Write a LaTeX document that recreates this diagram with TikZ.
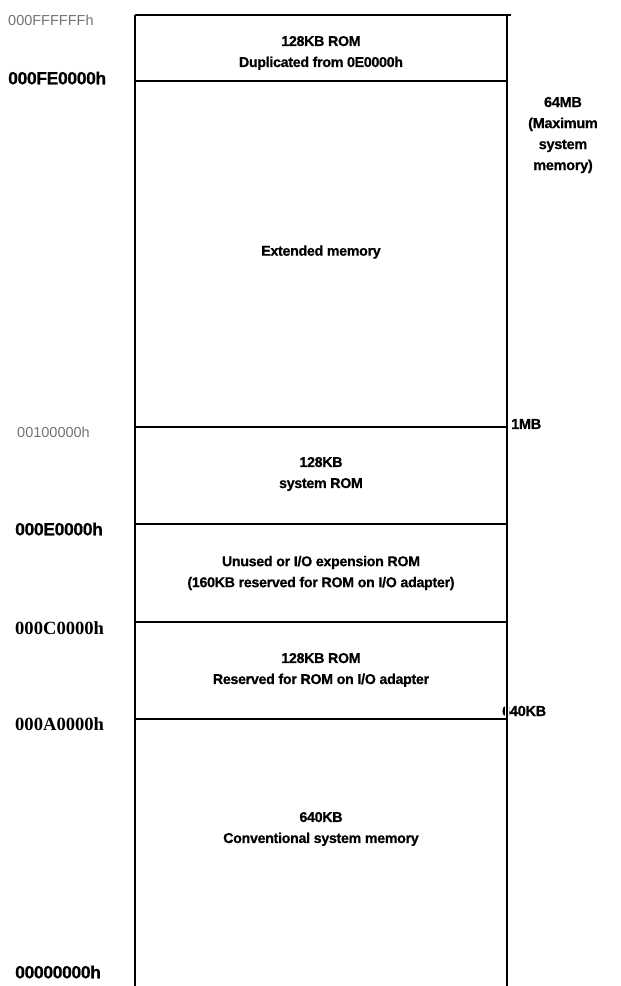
\documentclass[tikz,border=0pt]{standalone}
\usepackage{fontspec}
\setmainfont{Liberation Sans}[BoldFeatures={FakeBold=0.7}]
\newfontfamily\serifb{Liberation Serif}
\newfontfamily\plainsans{Liberation Sans}
\begin{document}
\begin{tikzpicture}[x=1pt,y=-1pt,
  boxtxt/.style={font=\fontsize{14.2}{21}\selectfont\bfseries\addfontfeature{LetterSpace=-2}, align=center, inner sep=0pt},
  addrb/.style={font=\fontsize{17.5}{19}\selectfont\bfseries\addfontfeature{LetterSpace=-2}, anchor=west, inner sep=0pt},
  addrg/.style={font=\fontsize{14.5}{16}\selectfont\plainsans, text=black!55, anchor=west, inner sep=0pt},
  addrs/.style={font=\fontsize{18.6}{21}\selectfont\serifb\bfseries, anchor=west, inner sep=0pt},
  sidetxt/.style={font=\fontsize{14.5}{21}\selectfont\bfseries\addfontfeature{LetterSpace=-2}, align=center, inner sep=0pt},
  wall/.style={line width=2pt},
  sep/.style={line width=2.6pt}]
\useasboundingbox (0,0) rectangle (621,986);
% right labels (drawn first so the wall covers the edge of 640KB)
\node[sidetxt] (s1) at (563,135) {64MB\\(Maximum\\system\\memory)};
\node[sidetxt, anchor=west] (s2) at (511,424) {1MB};
\node[sidetxt, anchor=west] (s3) at (502,711) {640KB};
% walls
\coordinate (tl) at (135,15);
\coordinate (tr) at (507,15);
\coordinate (bl) at (135,986);
\coordinate (br) at (507,986);
\draw[wall] (tl) -- (bl);
\fill[white] (505,700) rectangle (508.5,722);
\draw[wall] (tr) -- (br);
\coordinate (tre) at (511,15);
\draw[wall] (tl) -- (tre);
% separators
\foreach \n/\y in {a/81,b/427,c/524,d/622,e/719}{
  \coordinate (\n l) at (135,\y);
  \coordinate (\n r) at (507,\y);
  \draw[sep] (\n l) -- (\n r);
}
% box texts
\node[boxtxt] (r1) at (321,53) {128KB ROM\\Duplicated from 0E0000h};
\node[boxtxt] (r2) at (321,252) {Extended memory};
\node[boxtxt] (r3) at (321,474) {128KB\\system ROM};
\node[boxtxt] (r4) at (321,573) {Unused or I/O expension ROM\\(160KB reserved for ROM on I/O adapter)};
\node[boxtxt] (r5) at (321,670) {128KB ROM\\Reserved for ROM on I/O adapter};
\node[boxtxt] (r6) at (321,829) {640KB\\Conventional system memory};
% left addresses
\node[addrg] (l1) at (8,20) {000FFFFFFh};
\node[addrb] (l2) at (8,78) {000FE0000h};
\node[addrg] (l3) at (17,432) {00100000h};
\node[addrb] (l4) at (15,529) {000E0000h};
\node[addrs] (l5) at (15,628) {000C0000h};
\node[addrs] (l6) at (15,724) {000A0000h};
\node[addrb] (l7) at (15,972) {00000000h};
\end{tikzpicture}
\end{document}
